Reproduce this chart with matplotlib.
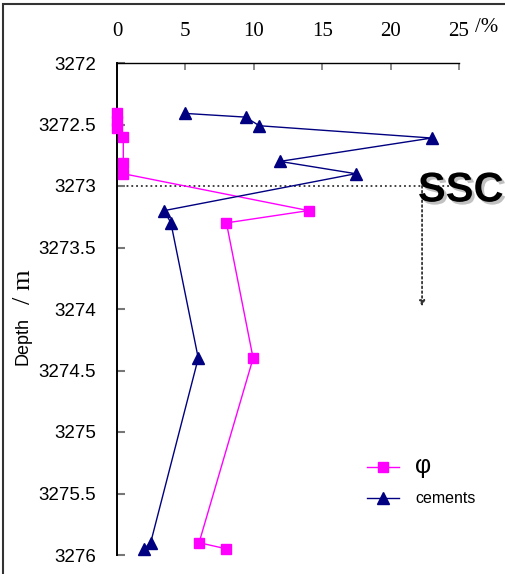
import matplotlib.pyplot as plt
import matplotlib.patheffects as pe
from matplotlib.patches import Rectangle

# depth (m) and values (%)
phi_depth = [3272.41, 3272.47, 3272.53, 3272.60, 3272.81, 3272.90, 3273.20, 3273.30, 3274.40, 3275.90, 3275.95]
phi_value = [0, 0, 0, 0.46, 0.46, 0.46, 14.0, 8.0, 9.95, 6.0, 8.0]

cem_depth = [3272.41, 3272.44, 3272.51, 3272.61, 3272.80, 3272.90, 3273.20, 3273.30, 3274.40, 3275.90, 3275.95]
cem_value = [5.0, 9.4, 10.4, 23.0, 11.9, 17.45, 3.45, 3.94, 5.94, 2.46, 1.97]

x_ticks = [0, 5, 10, 15, 20, 25]
y_ticks = [3272, 3272.5, 3273, 3273.5, 3274, 3274.5, 3275, 3275.5, 3276]
ssc_depth = 3273.0

fig = plt.figure(figsize=(5.05, 5.74), dpi=100)
ax = fig.add_axes([117 / 505, 1 - 555 / 574, 342 / 505, 492 / 574])

ax.plot(phi_value, phi_depth, color='#FF00FF', lw=1.0, marker='s', ms=6.8,
        mec='#FF00FF', label='φ', clip_on=False, zorder=3)
ax.plot(cem_value, cem_depth, color='#000080', lw=1.0, marker='^', ms=8.5,
        mec='#000080', label='cements', clip_on=False, zorder=3)

ax.set_xlim(0, 25)
ax.set_ylim(3276, 3272)
ax.set_xticks(x_ticks)
ax.set_yticks(y_ticks)
ax.set_yticklabels([f'{t:g}' for t in y_ticks], fontsize=13.5, family='Liberation Sans')
for lbl in ax.get_yticklabels():
    lbl.set_va('center_baseline')
ax.xaxis.tick_top()
ax.set_xticklabels([str(t) for t in x_ticks], fontsize=15, family='Liberation Serif')
ax.tick_params(axis='x', direction='in', length=5, width=1.2, color='#777777', pad=16)
ax.tick_params(axis='y', direction='in', length=6, width=1.5, color='#777777', pad=15)

for s in ['right', 'bottom']:
    ax.spines[s].set_visible(False)
ax.spines['left'].set_linewidth(1.4)
ax.spines['top'].set_linewidth(1.0)

# y label in two pieces: sans "Depth" and a larger serif "/ m"
fig.text(23 / 505, 1 - 341 / 574, 'Depth', rotation=90, ha='center', va='center',
         fontsize=13, family='Liberation Sans')
fig.text(24 / 505, 1 - 287 / 574, '/ m', rotation=90, ha='center', va='center',
         fontsize=19, family='Liberation Serif')
fig.text(487 / 505, 1 - 27 / 574, '/%', ha='center', va='center', fontsize=15, family='Liberation Serif')

# SSC marker
ax.plot([0, 24.5], [ssc_depth, ssc_depth], ls=':', color='#333333', lw=1.3, zorder=1)
ax.annotate('', xy=(22.3, 3273.98), xytext=(22.3, ssc_depth),
            arrowprops=dict(arrowstyle='-|>', ls=':', color='#333333', lw=1.3,
                            mutation_scale=8, shrinkA=0, shrinkB=0))
ax.text(22.0, ssc_depth, 'SSC', fontsize=30, fontweight='bold', family='Liberation Sans',
        ha='left', va='center_baseline', clip_on=False, zorder=4,
        path_effects=[pe.withSimplePatchShadow(offset=(2, -2), shadow_rgbFace='#999999', alpha=0.6)])

leg = ax.legend(loc='upper left', bbox_to_anchor=(0.69, 0.235), frameon=False,
                handlelength=2.0, handletextpad=1.0, labelspacing=0.85, fontsize=11.5)
for t in leg.get_texts():
    t.set_family('Liberation Sans')
leg.get_texts()[0].set_fontsize(18)

fig.patches.append(Rectangle((3 / 505, -0.05), 1.2, 1.05 - 4 / 574, transform=fig.transFigure,
                             fill=False, ec='#333333', lw=1.5))

fig.savefig('out.png', dpi=100)
